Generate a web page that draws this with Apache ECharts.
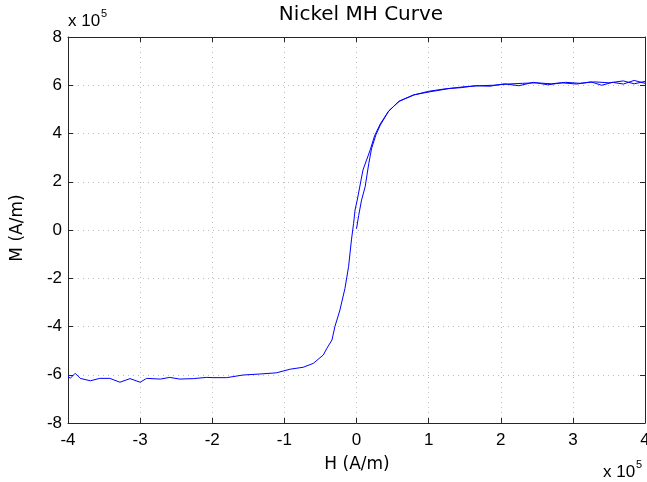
<!DOCTYPE html>
<html>
<head>
<meta charset="utf-8">
<script src="https://cdn.jsdelivr.net/npm/echarts@6/dist/echarts.min.js"></script>
<style>
  html, body { margin: 0; padding: 0; background: #fff; }
  #chart { width: 647px; height: 482px; }
</style>
</head>
<body>
<div id="chart"></div>
<script>
// Field H and magnetisation M, both in units of 1e5 A/m
// Initial magnetisation curve, from the demagnetised state up to +4
const virginH = [0.00, 0.03, 0.07, 0.12, 0.17, 0.21, 0.27, 0.33, 0.44, 0.58, 0.79, 1.02, 1.30, 1.50, 1.70, 1.90, 2.10, 2.30, 2.50, 2.70, 2.90, 3.10, 3.30, 3.50, 3.70, 3.85, 4.00];
const virginM = [0.05, 0.60, 1.24, 1.79, 2.75, 3.39, 3.95, 4.35, 4.90, 5.32, 5.60, 5.73, 5.87, 5.94, 5.98, 6.00, 6.05, 6.08, 6.10, 6.06, 6.12, 6.08, 6.14, 6.10, 6.18, 6.06, 6.16];

// Descending branch, from +4 back down to -4
const descH = [4.00, 3.85, 3.70, 3.55, 3.40, 3.25, 3.05, 2.85, 2.65, 2.45, 2.25, 2.05, 1.85, 1.65, 1.45, 1.25, 1.00, 0.80, 0.60, 0.45, 0.33, 0.25, 0.19, 0.09, 0.01, -0.02, -0.04, -0.07, -0.11, -0.16, -0.23, -0.30, -0.34, -0.41, -0.46, -0.60, -0.74, -0.92, -1.11, -1.34, -1.57, -1.80, -1.99, -2.08, -2.26, -2.45, -2.59, -2.72, -2.91, -3.00, -3.14, -3.28, -3.42, -3.56, -3.69, -3.83, -3.90, -3.97, -4.00];
const descM = [6.08, 6.20, 6.05, 6.12, 6.00, 6.14, 6.05, 6.10, 6.02, 6.12, 5.98, 6.06, 5.96, 5.98, 5.90, 5.86, 5.75, 5.60, 5.35, 4.95, 4.40, 3.90, 3.32, 2.49, 1.24, 0.83, 0.28, -0.41, -1.52, -2.42, -3.32, -4.01, -4.56, -4.90, -5.18, -5.53, -5.69, -5.77, -5.92, -5.97, -6.01, -6.12, -6.12, -6.11, -6.16, -6.18, -6.11, -6.18, -6.15, -6.31, -6.16, -6.31, -6.15, -6.15, -6.25, -6.15, -5.94, -6.15, -6.05];

// Tick values for both axes
const xTicks = [-4, -3, -2, -1, 0, 1, 2, 3, 4];
const yTicks = [-8, -6, -4, -2, 0, 2, 4, 6, 8];

const pairs = (xs, ys) => xs.map((x, i) => [x, ys[i]]);

const SANS = '"Liberation Sans", Arial, sans-serif';
const WIDE = '"DejaVu Sans", sans-serif';
const AXIS_COLOR = '#262626';
const GRID_COLOR = '#bdbdbd';

const chart = echarts.init(document.getElementById('chart'), null, { renderer: 'canvas' });

const boxAxis = (extra) => Object.assign({
  type: 'value',
  axisLine: { show: true, onZero: false, lineStyle: { color: AXIS_COLOR, width: 1 } },
  axisTick: { show: true, inside: true, length: 5, lineStyle: { color: AXIS_COLOR } },
  axisLabel: { show: false },
  splitLine: { show: false }
}, extra);

// "x 10^5" scale markers drawn as a base text plus a small exponent
const scaleMark = (x, y) => [
  { type: 'text', x: x, y: y,
    style: { text: 'x 10', font: '17px ' + SANS, fill: '#000', align: 'left', verticalAlign: 'middle' } },
  { type: 'text', x: x + 33, y: y - 7,
    style: { text: '5', font: '11px ' + SANS, fill: '#000', align: 'left', verticalAlign: 'middle' } }
];

chart.setOption({
  animation: false,
  backgroundColor: '#fff',
  grid: { left: 68, right: 2, top: 37, bottom: 59, containLabel: false, outerBoundsMode: 'none' },
  xAxis: [
    boxAxis({
      position: 'bottom',
      min: xTicks[0], max: xTicks[xTicks.length - 1], interval: 1,
      axisLabel: { show: true, margin: 9, fontFamily: SANS, fontSize: 17, color: '#000',
                   formatter: v => String(v), showMinLabel: true, showMaxLabel: true },
      splitLine: { show: true, lineStyle: { color: GRID_COLOR, type: [1, 4], width: 1 } }
    }),
    boxAxis({ position: 'top', min: xTicks[0], max: xTicks[xTicks.length - 1], interval: 1 })
  ],
  yAxis: [
    boxAxis({
      position: 'left',
      min: yTicks[0], max: yTicks[yTicks.length - 1], interval: 2,
      axisLabel: { show: true, margin: 6, fontFamily: SANS, fontSize: 17, color: '#000',
                   formatter: v => String(v), showMinLabel: true, showMaxLabel: true },
      splitLine: { show: true, lineStyle: { color: GRID_COLOR, type: [1, 4], width: 1 } }
    }),
    boxAxis({ position: 'right', min: yTicks[0], max: yTicks[yTicks.length - 1], interval: 2 })
  ],
  graphic: [
    { type: 'text', x: 361, y: 15,
      style: { text: 'Nickel MH Curve', font: '20px ' + WIDE, fill: '#000', align: 'center', verticalAlign: 'middle' } },
    { type: 'text', x: 357, y: 465,
      style: { text: 'H (A/m)', font: '17px ' + WIDE, fill: '#000', align: 'center', verticalAlign: 'middle' } },
    { type: 'text', x: 18, y: 228, rotation: Math.PI / 2,
      style: { text: 'M (A/m)', font: '17px ' + WIDE, fill: '#000', align: 'center', verticalAlign: 'middle' } },
    ...scaleMark(68, 21),
    ...scaleMark(603, 472)
  ],
  series: [
    {
      name: 'Initial curve', type: 'line', data: pairs(virginH, virginM),
      showSymbol: false, smooth: false, clip: true,
      lineStyle: { color: '#0000ff', width: 1 }
    },
    {
      name: 'Descending branch', type: 'line', data: pairs(descH, descM),
      showSymbol: false, smooth: false, clip: true,
      lineStyle: { color: '#0000ff', width: 1 }
    }
  ]
});
</script>
</body>
</html>
